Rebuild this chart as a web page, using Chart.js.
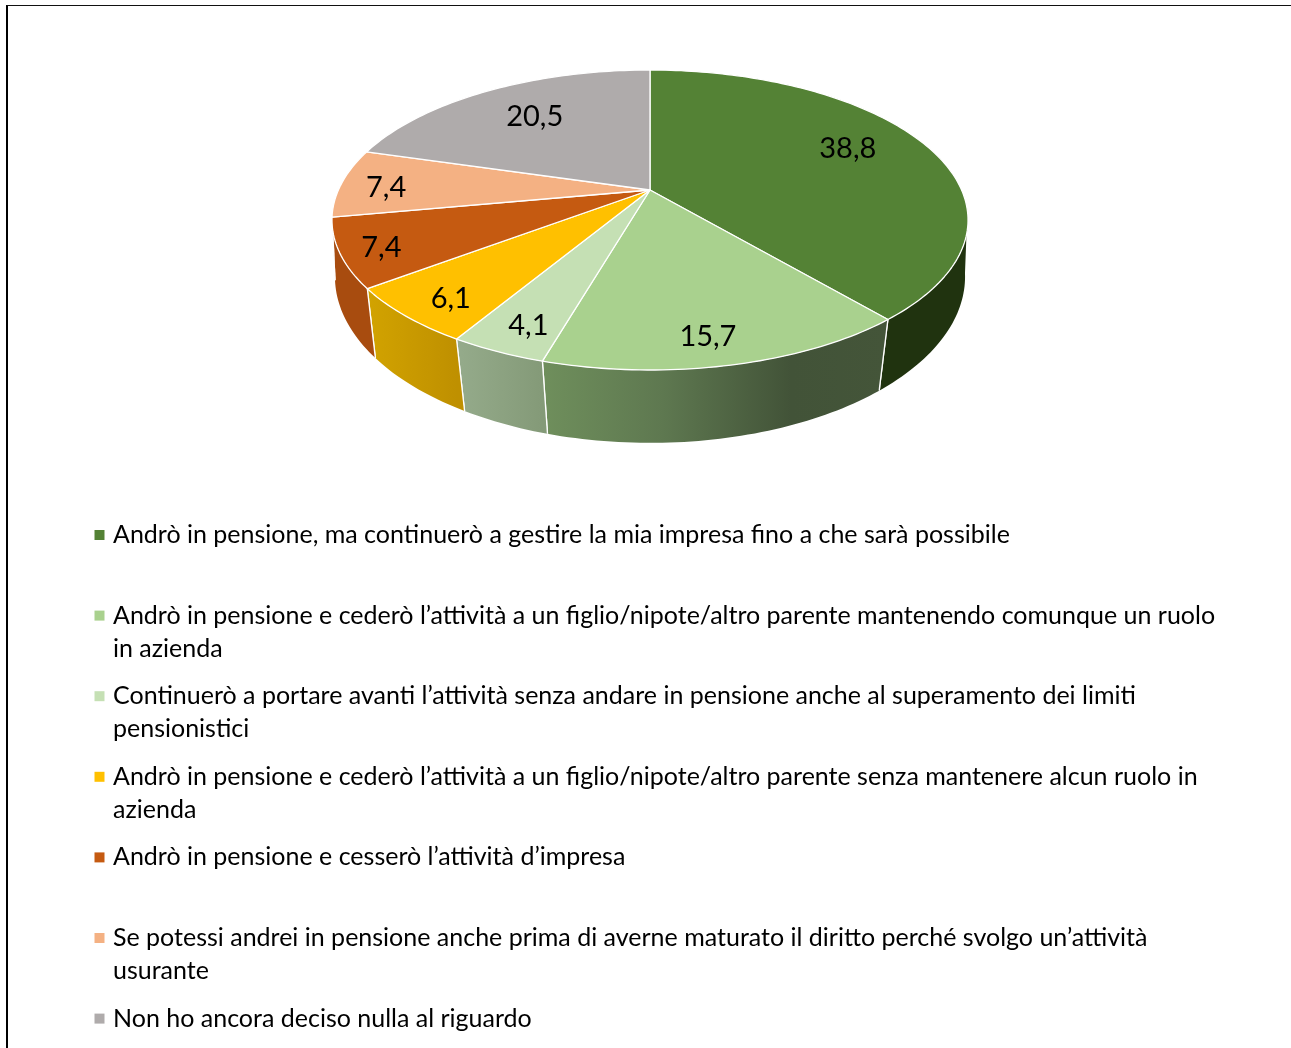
<!DOCTYPE html>
<html lang="it">
<head>
<meta charset="utf-8">
<title>Pensione</title>
<style>
html,body{margin:0;padding:0;background:#fff;overflow:hidden;width:1291px;height:1048px}
#frame{position:absolute;left:6px;top:5px;right:-10px;bottom:-10px;border-left:2px solid #000;border-top:1.5px solid #111}
#c{position:absolute;left:0;top:0}
</style>
<script src="https://cdn.jsdelivr.net/npm/chart.js@4/dist/chart.umd.js"></script>
</head>
<body>
<div id="frame"></div>
<canvas id="c" width="1291" height="1048"></canvas>
<script>
const categories = [
  ["Andrò in pensione, ma continuerò a gestire la mia impresa fino a che sarà possibile"],
  ["Andrò in pensione e cederò l’attività a un figlio/nipote/altro parente mantenendo comunque un ruolo", "in azienda"],
  ["Continuerò a portare avanti l’attività senza andare in pensione anche al superamento dei limiti", "pensionistici"],
  ["Andrò in pensione e cederò l’attività a un figlio/nipote/altro parente senza mantenere alcun ruolo in", "azienda"],
  ["Andrò in pensione e cesserò l’attività d’impresa"],
  ["Se potessi andrei in pensione anche prima di averne maturato il diritto perché svolgo un’attività", "usurante"],
  ["Non ho ancora deciso nulla al riguardo"]
];
const values = [38.8, 15.7, 4.1, 6.1, 7.4, 7.4, 20.5];
const topColors = ["#548235", "#A9D18E", "#C5E0B4", "#FFC000", "#C55A11", "#F4B183", "#AFABAB"];
const wallColors = [
  [[0, "#20330F"], [1, "#20330F"]],
  [[0, "#6F8F5C"], [0.35, "#5E7850"], [0.72, "#425338"], [1, "#445539"]],
  [[0, "#95AB8B"], [1, "#849A78"]],
  [[0, "#D2A300"], [1, "#BF9000"]],
  [[0, "#A84C0F"], [1, "#A84C0F"]],
  [[0, "#B5774A"], [1, "#B5774A"]],
  [[0, "#7A7777"], [1, "#7A7777"]]
];

// Perspective of the disc: unit-circle (u,v) to screen
const topDisc = {cx: 650, cy: 190, dx: 311.6, dy: 144, k: -0.2};
const lowDisc = {cx: 650, cy: 250, dx: 311, dy: 162, k: -0.16};
function project(d, u, v) {
  const w = 1 + d.k * v;
  return [d.cx + d.dx * u / w, d.cy + d.dy * v / w];
}
function rim(ctx, d, a0, a1, move) {
  const n = Math.max(2, Math.ceil(Math.abs(a1 - a0) / 0.02));
  for (let i = 0; i <= n; i++) {
    const a = a0 + (a1 - a0) * i / n;
    const p = project(d, Math.cos(a), Math.sin(a));
    if (i === 0 && move) ctx.moveTo(p[0], p[1]); else ctx.lineTo(p[0], p[1]);
  }
}

// Slices keep the library's angles; only their outline goes through the projection
Chart.ArcElement.prototype.draw = function (ctx) {
  const {startAngle, endAngle} = this.getProps(['startAngle', 'endAngle']);
  ctx.save();
  ctx.beginPath();
  const c = project(topDisc, 0, 0);
  ctx.moveTo(c[0], c[1]);
  rim(ctx, topDisc, startAngle, endAngle, false);
  ctx.closePath();
  ctx.fillStyle = this.options.backgroundColor;
  ctx.fill();
  ctx.strokeStyle = this.options.borderColor;
  ctx.lineWidth = this.options.borderWidth;
  ctx.lineJoin = 'round';
  ctx.stroke();
  ctx.restore();
};

const walls = {
  id: 'walls',
  beforeDatasetsDraw(chart) {
    const ctx = chart.ctx, limit = 0.14;
    chart.getDatasetMeta(0).data.forEach((arc, i) => {
      const s = Math.max(arc.startAngle, limit), e = Math.min(arc.endAngle, Math.PI - limit);
      if (e <= s) return;
      const a = project(topDisc, Math.cos(s), Math.sin(s));
      const b = project(topDisc, Math.cos(e), Math.sin(e));
      const g = ctx.createLinearGradient(Math.min(a[0], b[0]), 0, Math.max(a[0], b[0]), 0);
      wallColors[i].forEach(st => g.addColorStop(st[0], st[1]));
      ctx.save();
      ctx.beginPath();
      rim(ctx, topDisc, s, e, true);
      rim(ctx, lowDisc, e, s, false);
      ctx.closePath();
      ctx.fillStyle = g;
      ctx.fill();
      ctx.strokeStyle = '#fff';
      ctx.lineWidth = 1.3;
      [[s, arc.startAngle], [e, arc.endAngle]].forEach(([t, real]) => {
        if (t !== real) return;
        const p = project(topDisc, Math.cos(t), Math.sin(t));
        const q = project(lowDisc, Math.cos(t), Math.sin(t));
        ctx.beginPath(); ctx.moveTo(p[0], p[1]); ctx.lineTo(q[0], q[1]); ctx.stroke();
      });
      ctx.restore();
    });
  }
};

// radial fraction and angle nudge (radians) of each value label
const labelRadius = [0.74, 0.86, 0.86, 0.86, 0.88, 0.85, 0.7];
const labelTurn = [-0.075, 0.03, -0.02, -0.03, -0.02, -0.03, 0.015];
const numberFormat = new Intl.NumberFormat('it-IT', {minimumFractionDigits: 1});
const valueLabels = {
  id: 'valueLabels',
  afterDatasetsDraw(chart) {
    const ctx = chart.ctx;
    ctx.save();
    ctx.font = '29px Lato';
    ctx.fillStyle = '#000';
    ctx.textAlign = 'center';
    ctx.textBaseline = 'middle';
    chart.getDatasetMeta(0).data.forEach((arc, i) => {
      const m = (arc.startAngle + arc.endAngle) / 2 + labelTurn[i];
      const p = project(topDisc, labelRadius[i] * Math.cos(m), labelRadius[i] * Math.sin(m));
      ctx.fillText(numberFormat.format(values[i]), p[0], p[1]);
    });
    ctx.restore();
  }
};

const placeLegend = {
  id: 'placeLegend',
  afterLayout(chart) {
    const pad = chart.options.plugins.legend.labels.padding;
    chart.legend.left = 98.5 - pad;
    chart.legend.top = 522.5 - pad;
  }
};

new Chart(document.getElementById('c'), {
  type: 'pie',
  data: {
    labels: categories,
    datasets: [{data: values, backgroundColor: topColors, borderColor: '#fff', borderWidth: 1.3}]
  },
  plugins: [walls, valueLabels, placeLegend],
  options: {
    responsive: false,
    animation: false,
    events: [],
    plugins: {
      tooltip: {enabled: false},
      legend: {
        display: true,
        position: 'bottom',
        align: 'start',
        labels: {
          font: {family: 'Lato', size: 25, lineHeight: '33px'},
          color: '#111',
          boxWidth: 2,
          boxHeight: 2,
          padding: 55.6,
          generateLabels(chart) {
            return chart.data.labels.map((text, i) => ({
              text,
              fillStyle: topColors[i],
              strokeStyle: topColors[i],
              lineWidth: 8,
              hidden: false,
              index: i
            }));
          }
        }
      }
    }
  }
});
</script>
</body>
</html>
